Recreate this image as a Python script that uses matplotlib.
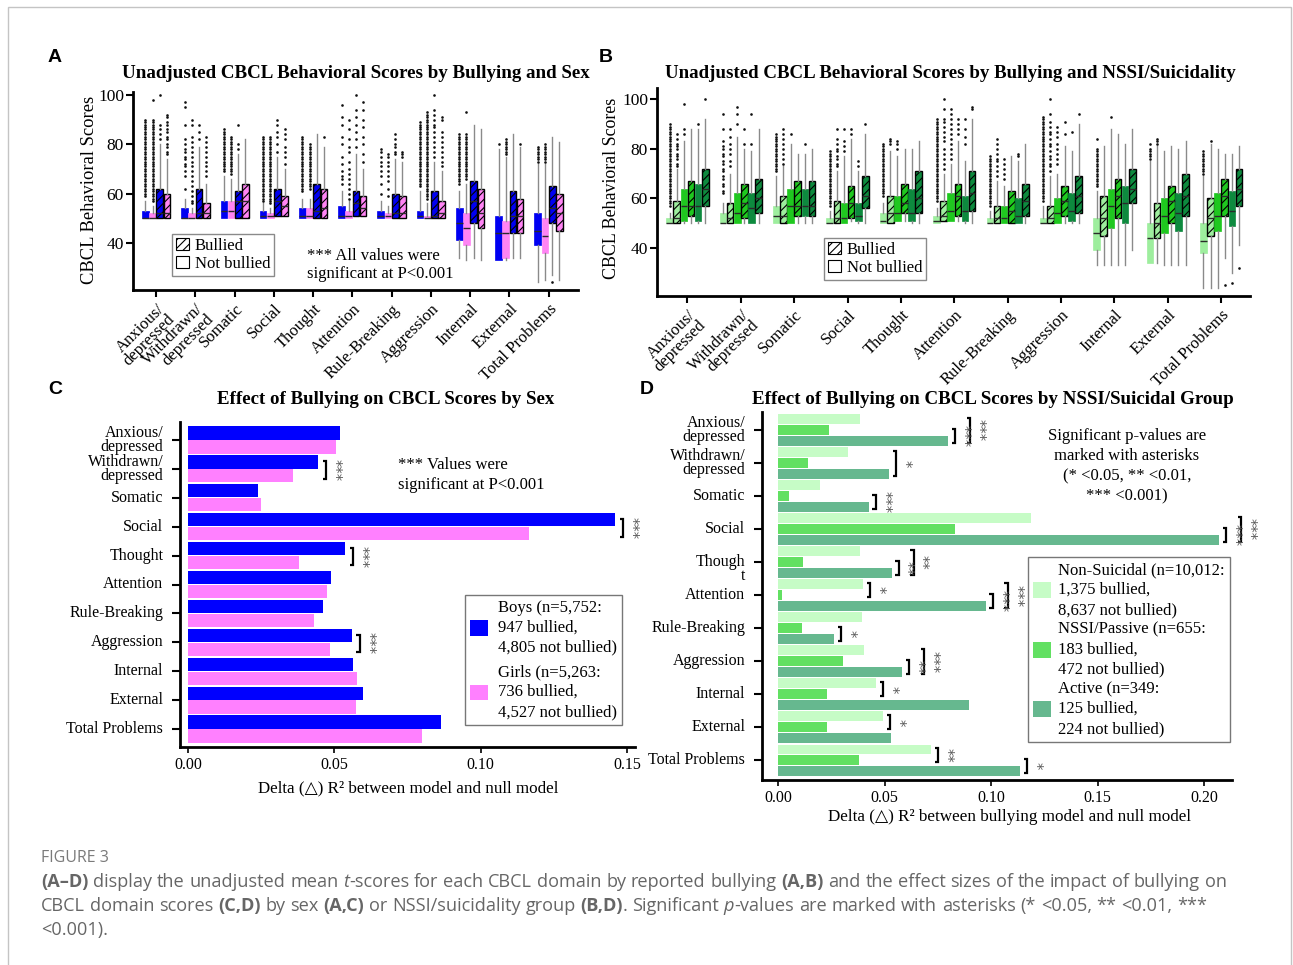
import numpy as np
import matplotlib
matplotlib.use("Agg")
import matplotlib.pyplot as plt
from matplotlib.patches import Patch, Rectangle
from matplotlib.transforms import ScaledTranslation

W, H, DPI = 1293, 965, 100
SERIF = ["Liberation Serif", "DejaVu Serif"]
SANS = ["Liberation Sans", "DejaVu Sans"]
CAPTION_FONT = ["Open Sans", "DejaVu Sans"]
plt.rcParams["font.family"] = SERIF
plt.rcParams["hatch.linewidth"] = 0.8
plt.rcParams["hatch.color"] = "black"

# ------------------------------------------------------------------ data
domains = ["Anxious/\ndepressed", "Withdrawn/\ndepressed", "Somatic", "Social",
           "Thought", "Attention", "Rule-Breaking", "Aggression", "Internal",
           "External", "Total Problems"]
domains_d = ["Anxious/\ndepressed", "Withdrawn/\ndepressed", "Somatic", "Social",
             "Though\nt", "Attention", "Rule-Breaking", "Aggression", "Internal",
             "External", "Total Problems"]


def scores(*parts):
    """Outlying T-scores: single values or (first, last) runs of consecutive scores."""
    out = []
    for p in parts:
        if isinstance(p, tuple):
            out.extend(range(p[0], p[1] + 1))
        else:
            out.append(p)
    return out


# Panel A: (lower whisker, Q1, median, Q3, upper whisker) per domain
boys_not_bullied = [(50, 50, 50, 53, 57), (50, 50, 50, 54, 58), (50, 50, 53, 57, 67),
                    (50, 50, 51, 53, 56), (50, 50, 51, 54, 58), (50, 50, 51, 55, 61),
                    (50, 50, 51, 53, 57), (50, 50, 51, 53, 61), (34, 41, 48, 54, 61),
                    (33, 33, 44, 51, 78), (24, 39, 45, 52, 72)]
girls_not_bullied = [(50, 50, 50, 52, 55), (50, 50, 50, 52, 54), (50, 50, 53, 57, 66),
                     (50, 50, 51, 52, 54), (50, 50, 51, 54, 58), (50, 50, 51, 53, 57),
                     (50, 50, 51, 52, 55), (50, 50, 50, 51, 56), (33, 39, 46, 52, 64),
                     (33, 34, 44, 49, 75), (25, 36, 43, 50, 72)]
boys_bullied = [(50, 50, 52, 62, 80), (50, 50, 52, 62, 79), (50, 50, 57, 61, 76),
                (51, 51, 57, 62, 75), (50, 50, 53, 64, 84), (51, 51, 56, 61, 76),
                (50, 50, 52, 60, 74), (50, 50, 51, 61, 73), (34, 48, 57, 65, 88),
                (34, 44, 51, 61, 84), (27, 48, 54, 63, 83)]
girls_bullied = [(50, 50, 52, 60, 74), (50, 50, 52, 56, 64), (50, 50, 57, 64, 82),
                 (51, 51, 55, 59, 70), (50, 50, 54, 62, 79), (51, 51, 54, 59, 70),
                 (50, 50, 52, 59, 73), (50, 50, 52, 57, 69), (33, 46, 52, 62, 86),
                 (34, 44, 51, 58, 79), (25, 45, 52, 60, 81)]

boys_not_bullied_out = [scores((59, 90)), scores(62, 67, 69, 71, 72, 74, 75, 77, 78, 80, 82, 88, 95, 97),
                        scores((69, 86)), scores((57, 83)), scores((61, 83)),
                        scores(64, 66, 67, 69, 72, 75, 80, 83, 88, 91, 96),
                        scores(60, 64, 67, 69, 71, 73, 75, 77, 78), scores((63, 89)),
                        scores((64, 84)), scores(80), scores((73, 79))]
girls_not_bullied_out = [scores((57, 90), 98),
                         scores(56, 57, 59, 61, 63, 65, 67, 69, 71, 73, 75, 77, 79, 81, 83, 88, 90),
                         scores((68, 83)), scores((56, 83)), scores((62, 80)),
                         scores(58, 60, 62, 64, 66, 68, 70, 73, 77, 79, 82, 86, 90),
                         scores(59, 62, 65, 67, 69, 71, 73, 75, 76), scores((58, 93)),
                         scores((66, 84), 93), scores((76, 82)), scores((73, 80))]
boys_bullied_out = [scores(82, 84, 86, 88, 100), scores(82, 85, 88), scores(78, 80, 88),
                    scores(77, 80, 83, 85, 88, 90), scores(),
                    scores(79, 82, 85, 88, 91, 94, 100), scores(76, 77, 79, 80, 82, 84),
                    scores(75, 77, 79, 81, 83, 85, 87, 88, 90, 92, 94, 100),
                    scores(), scores(), scores(24)]
girls_bullied_out = [scores(76, 77, 79, 80, 82, 83, 85, 86, 88, 89, 91, 92),
                     scores(67, 69, 71, 73, 75, 77, 79, 81, 83), scores(),
                     scores(72, 75, 77, 79, 82, 84, 86), scores(83),
                     scores(73, 76, 80, 83, 87, 90, 94, 97), scores(75, 76, 77),
                     scores(71, 73, 75, 77, 79, 81, 83, 85, 90, 91), scores(), scores(80), scores()]

# Panel B: same layout, by NSSI/suicidality group
nonsuicidal_not_bullied = [(50, 50, 50, 52, 54), (50, 50, 50, 54, 58), (50, 50, 53, 57, 69),
                           (50, 50, 50, 52, 55), (50, 50, 51, 54, 58), (50, 50, 51, 53, 56),
                           (50, 50, 50, 52, 55), (50, 50, 50, 52, 57), (33, 39, 46, 52, 63),
                           (34, 34, 44, 50, 75), (24, 38, 43, 50, 69)]
nonsuicidal_bullied = [(50, 50, 52, 59, 72), (50, 50, 52, 58, 70), (50, 50, 53, 61, 73),
                       (50, 50, 52, 59, 71), (50, 50, 54, 61, 79), (51, 51, 53, 59, 70),
                       (50, 50, 52, 57, 67), (50, 50, 52, 57, 69), (33, 45, 52, 61, 81),
                       (34, 44, 50, 58, 81), (24, 45, 52, 60, 82)]
nssi_not_bullied = [(50, 51, 57, 64, 83), (50, 50, 54, 62, 85), (50, 50, 57, 64, 82),
                    (50, 50, 52, 58, 77), (51, 51, 54, 61, 77), (51, 51, 55, 62, 74),
                    (50, 50, 52, 57, 65), (50, 50, 54, 60, 70), (33, 48, 57, 64, 88),
                    (33, 46, 53, 60, 79), (24, 47, 53, 62, 80)]
nssi_bullied = [(50, 53, 57, 67, 88), (50, 52, 58, 66, 80), (50, 53, 57, 67, 78),
                (51, 52, 58, 65, 84), (51, 54, 58, 66, 80), (51, 53, 61, 66, 83),
                (50, 50, 55, 63, 77), (50, 53, 59, 65, 81), (33, 52, 61, 68, 86),
                (33, 50, 59, 65, 81), (36, 53, 61, 68, 78)]
active_not_bullied = [(50, 51, 57, 66, 88), (50, 50, 56, 62, 79), (50, 53, 57, 64, 78),
                      (50, 51, 53, 58, 71), (50, 51, 54, 64, 80), (50, 51, 55, 61, 75),
                      (50, 50, 53, 60, 75), (50, 51, 55, 62, 79), (33, 50, 58, 65, 82),
                      (33, 47, 54, 62, 80), (30, 49, 55, 63, 78)]
active_bullied = [(50, 57, 64, 72, 92), (50, 54, 60, 68, 88), (50, 53, 57, 67, 80),
                  (50, 56, 61, 69, 86), (50, 54, 60, 71, 83), (50, 55, 62, 71, 92),
                  (50, 53, 59, 66, 82), (50, 54, 61, 69, 90), (39, 58, 64, 72, 88),
                  (33, 53, 61, 70, 83), (41, 57, 64, 72, 81)]

nonsuicidal_not_bullied_out = [scores((57, 90)),
                               scores(62, 63, 65, 66, 68, 69, 71, 72, 74, 75, 77, 78, 80, 81, 83, 88, 94),
                               scores((71, 86)), scores((57, 79)), scores((61, 82)),
                               scores((59, 92)), scores((57, 77)), scores((59, 93)),
                               scores((65, 80), 84), scores(76, 77, 78, 79, 80, 82), scores((70, 79))]
nonsuicidal_bullied_out = [scores(73, 74, 76, 77, 78, 80, 81, 82, 84, 86),
                           scores(73, 75, 78, 80, 82, 85, 88),
                           scores(74, 76, 78, 80, 82, 84, 86, 88),
                           scores(73, 74, 76, 77, 79, 80, 82, 84, 88), scores(82, 83, 84),
                           scores(72, 74, 76, 78, 80, 83, 85, 87, 89, 91, 92, 96, 100),
                           scores(69, 71, 73, 75, 76, 78, 80, 82, 84),
                           scores(71, 73, 74, 76, 77, 79, 81, 82, 84, 86, 87, 89, 91, 94, 100),
                           scores(), scores(82, 83, 84), scores(83)]
nssi_not_bullied_out = [scores(86, 88, 98), scores(90, 94, 97), scores(86),
                        scores(79, 81, 83, 88), scores(80, 82, 83),
                        scores(76, 78, 80, 82, 84, 86, 88, 90, 92, 94, 96),
                        scores(68, 70, 72, 74, 76), scores(74, 76, 78, 80, 82, 85, 87, 89),
                        scores(93), scores(), scores()]
nssi_bullied_out = [scores(), scores(82, 88), scores(), scores(86, 88), scores(),
                    scores(86, 88, 90, 92), scores(), scores(86, 91), scores(), scores(), scores(25)]
active_not_bullied_out = [scores(90), scores(82, 94), scores(82), scores(73, 75), scores(),
                          scores(82, 85, 88, 92), scores(77, 78), scores(87), scores(), scores(),
                          scores(26)]
active_bullied_out = [scores(100), scores(), scores(), scores(90), scores(), scores(96, 97),
                      scores(), scores(94), scores(), scores(), scores(32)]

# Panel C: delta R^2 by sex
delta_boys = [0.052, 0.0445, 0.024, 0.146, 0.0537, 0.049, 0.0462, 0.056, 0.0563, 0.0597, 0.0863]
delta_girls = [0.0505, 0.036, 0.025, 0.1164, 0.038, 0.0474, 0.0432, 0.0487, 0.0579, 0.0575, 0.080]
sig_c = {1: [(0, 1, "***")], 3: [(0, 1, "***")], 4: [(0, 1, "***")], 7: [(0, 1, "***")]}

# Panel D: delta R^2 by NSSI/suicidal group
delta_nonsuicidal = [0.0384, 0.0327, 0.0197, 0.1187, 0.0384, 0.0400, 0.0394, 0.0405, 0.0462, 0.0495, 0.0719]
delta_nssi = [0.0240, 0.0141, 0.0051, 0.0831, 0.0119, 0.0021, 0.0114, 0.0304, 0.0231, 0.0231, 0.0380]
delta_active = [0.0799, 0.0523, 0.0426, 0.2072, 0.0533, 0.0975, 0.0264, 0.0584, 0.0895, 0.0529, 0.1136]
sig_d = {0: [(1, 2, "***"), (0, 2, "***")], 1: [(0, 2, "*")], 2: [(1, 2, "***")],
         3: [(1, 2, "***"), (0, 2, "***")], 4: [(1, 2, "**"), (0, 2, "**")],
         5: [(0, 1, "*"), (1, 2, "***"), (0, 2, "***")], 6: [(1, 2, "*")],
         7: [(1, 2, "**"), (0, 2, "***")], 8: [(0, 1, "*")], 9: [(0, 1, "*")],
         10: [(0, 1, "**"), (1, 2, "*")]}

legend_c = ["Boys (n=5,752:\n947 bullied,\n4,805 not bullied)",
            "Girls (n=5,263:\n736 bullied,\n4,527 not bullied)"]
legend_d = ["Non-Suicidal (n=10,012:\n1,375 bullied,\n8,637 not bullied)",
            "NSSI/Passive (n=655:\n183 bullied,\n472 not bullied)",
            "Active (n=349:\n125 bullied,\n224 not bullied)"]

caption_lines = [
    [("(A–D)", "bold"), (" display the unadjusted mean ", "normal"), ("t", "italic"),
     ("-scores for each CBCL domain by reported bullying ", "normal"), ("(A,B)", "bold"),
     (" and the effect sizes of the impact of bullying on", "normal")],
    [("CBCL domain scores ", "normal"), ("(C,D)", "bold"), (" by sex ", "normal"),
     ("(A,C)", "bold"), (" or NSSI/suicidality group ", "normal"), ("(B,D)", "bold"),
     (". Significant ", "normal"), ("p", "italic"),
     ("-values are marked with asterisks (* <0.05, ** <0.01, ***", "normal")],
    [("<0.001).", "normal")],
]

# ------------------------------------------------------------------ style
BLUE, PINK = "#0000f2", "#ff84f4"
BLUE_C, PINK_C = "#0000ff", "#ff80ff"
G_LIGHT, G_MID, G_DARK = "#9eee9e", "#1fc81f", "#0d8a3e"
D_LIGHT, D_MID, D_DARK = "#c6fcc6", "#62e062", "#66b88f"
STAR = "#5a5a5a"

fig = plt.figure(figsize=(W / DPI, H / DPI), dpi=DPI)
fig.patch.set_facecolor("white")
renderer = fig.canvas.get_renderer()


def rect(left, top, right, bottom):
    return [left / W, 1 - bottom / H, (right - left) / W, (bottom - top) / H]


def ptext(x, y, s, **kw):
    return fig.text(x / W, 1 - y / H, s, **kw)


def fit(t, length_px, vertical=False):
    bb = t.get_window_extent(renderer)
    size = bb.height if vertical else bb.width
    t.set_fontsize(t.get_fontsize() * length_px / size)
    return t


def draw_boxes(ax, series, offsets, width, colors, hatched):
    for (stats, outs), off, col, hat in zip(series, offsets, colors, hatched):
        bstats = [dict(whislo=s[0], q1=s[1], med=s[2], q3=s[3], whishi=s[4], fliers=o)
                  for s, o in zip(stats, outs)]
        ax.bxp(bstats, positions=np.arange(len(bstats)) + off, widths=width,
               patch_artist=True, showcaps=False, manage_ticks=False,
               boxprops=dict(facecolor=col, edgecolor="black" if hat else col,
                             linewidth=1.0 if hat else 0.5, hatch="////" if hat else None),
               medianprops=dict(color="#2a2a2a", linewidth=1.0),
               whiskerprops=dict(color="#8a8a8a", linewidth=1.0),
               flierprops=dict(marker="o", markersize=1.9, markerfacecolor="#101010",
                               markeredgecolor="none"))


def style_box_axes(ax):
    for s in ("top", "right"):
        ax.spines[s].set_visible(False)
    for s in ("left", "bottom"):
        ax.spines[s].set_linewidth(2.0)
    ax.set_yticks([40, 60, 80, 100])
    ax.tick_params(axis="both", direction="out", length=5, width=1.5)
    ax.tick_params(axis="y", labelsize=12.5, pad=1.5)
    ax.set_xticks(range(len(domains)))
    ax.set_xticklabels(domains, rotation=45, ha="right", rotation_mode="anchor",
                       fontsize=12, linespacing=0.85)
    ax.tick_params(axis="x", pad=3)


def style_bar_axes(ax, labels):
    for s in ("top", "right"):
        ax.spines[s].set_visible(False)
    for s in ("left", "bottom"):
        ax.spines[s].set_linewidth(2.0)
    ax.set_yticks(range(len(labels)))
    ax.set_yticklabels(labels, fontsize=11.5, linespacing=0.85)
    for lab in ax.get_yticklabels():
        lab.set_verticalalignment("center")
    ax.tick_params(axis="y", direction="out", length=6, width=1.5, pad=6)
    ax.tick_params(axis="x", direction="out", length=4, width=1.2, labelsize=11.5, pad=3)


def box_legend(ax, anchor):
    handles = [Patch(facecolor="white", edgecolor="black", hatch="////", linewidth=0.8),
               Patch(facecolor="white", edgecolor="black", linewidth=0.8)]
    leg = ax.legend(handles, ["Bullied", "Not bullied"], loc="upper left",
                    bbox_to_anchor=anchor, fontsize=12, frameon=True, fancybox=False,
                    edgecolor="#8a8a8a", framealpha=1, handlelength=0.75, handleheight=0.75,
                    handletextpad=0.35, borderpad=0.25, labelspacing=0.12, borderaxespad=0)
    leg.get_frame().set_linewidth(1.0)


def brackets(ax, values, offsets, marks, ppu, pad_top, pad_bot, gap=7, step=15, arm=3.5, fs=11):
    for cat, items in marks.items():
        placed = []
        for i, j, stars in items:
            x = max(values[k][cat] for k in range(i, j + 1)) + gap / ppu
            for pi, pj, px in placed:
                if i <= pi and pj <= j:
                    x = max(x, px + step / ppu)
            placed.append((i, j, x))
            y0 = cat + offsets[i] - pad_top
            y1 = cat + offsets[j] + pad_bot
            ax.plot([x - arm / ppu, x, x, x - arm / ppu], [y0, y0, y1, y1], color="black",
                    lw=1.6, clip_on=False, solid_joinstyle="miter", solid_capstyle="butt")
            ax.text(x + 0.5 / ppu, (y0 + y1) / 2, stars, rotation=270, ha="left", va="center",
                    fontsize=fs, color=STAR, clip_on=False, family=["DejaVu Sans"])


# ------------------------------------------------------------------ panel A
axA = fig.add_axes(rect(133, 92, 578, 290))
draw_boxes(axA,
           [(boys_not_bullied, boys_not_bullied_out), (girls_not_bullied, girls_not_bullied_out),
            (boys_bullied, boys_bullied_out), (girls_bullied, girls_bullied_out)],
           [-0.275, -0.092, 0.092, 0.275], 0.17,
           [BLUE, PINK, BLUE, PINK], [False, False, True, True])
axA.set_xlim(-0.59, 10.75)
axA.set_ylim(20.9, 101.2)
style_box_axes(axA)
box_legend(axA, (0.088, 0.283))
ptext(307, 265, "*** All values were\nsignificant at P<0.001", fontsize=12,
      ha="left", va="center", linespacing=1.25)
fit(ptext(355.5, 73, "Unadjusted CBCL Behavioral Scores by Bullying and Sex",
          fontsize=13, weight="bold", ha="center", va="center"), 465)
fit(ptext(90, 190, "CBCL Behavioral Scores", fontsize=13.5, rotation=90,
          ha="center", va="center"), 188, vertical=True)

# ------------------------------------------------------------------ panel B
axB = fig.add_axes(rect(657, 88, 1250, 296))
draw_boxes(axB,
           [(nonsuicidal_not_bullied, nonsuicidal_not_bullied_out),
            (nonsuicidal_bullied, nonsuicidal_bullied_out),
            (nssi_not_bullied, nssi_not_bullied_out), (nssi_bullied, nssi_bullied_out),
            (active_not_bullied, active_not_bullied_out), (active_bullied, active_bullied_out)],
           [-0.333, -0.2, -0.067, 0.067, 0.2, 0.333], 0.125,
           [G_LIGHT, G_LIGHT, G_MID, G_MID, G_DARK, G_DARK],
           [False, True, False, True, False, True])
axB.set_xlim(-0.57, 10.54)
axB.set_ylim(20.6, 104.6)
style_box_axes(axB)
box_legend(axB, (0.282, 0.279))
fit(ptext(950, 74, "Unadjusted CBCL Behavioral Scores by Bullying and NSSI/Suicidality",
          fontsize=13, weight="bold", ha="center", va="center"), 568)
fit(ptext(611, 188, "CBCL Behavioral Scores", fontsize=13.5, rotation=90,
          ha="center", va="center"), 182, vertical=True)

# ------------------------------------------------------------------ panel C
axC = fig.add_axes(rect(180, 422, 635, 747))
yc = np.arange(len(domains))
off_c = [-0.24, 0.24]
axC.barh(yc + off_c[0], delta_boys, height=0.46, color=BLUE_C)
axC.barh(yc + off_c[1], delta_girls, height=0.46, color=PINK_C)
axC.set_xlim(-0.0027, 0.1527)
axC.set_ylim(10.62, -0.62)
axC.set_xticks([0, 0.05, 0.10, 0.15])
axC.set_xticklabels(["0.00", "0.05", "0.10", "0.15"])
style_bar_axes(axC, domains)
ppu_c = 455 / (0.1527 + 0.0027)
brackets(axC, [delta_boys, delta_girls], off_c, sig_c, ppu_c, 0.02, 0.1, gap=8, fs=10.5)
legC = axC.legend([Patch(facecolor=BLUE_C), Patch(facecolor=PINK_C)], legend_c,
                  loc="upper left", bbox_to_anchor=(0.627, 0.468), fontsize=12,
                  frameon=True, fancybox=False, edgecolor="#777777", framealpha=1,
                  handlelength=1.05, handleheight=1.05, handletextpad=0.6,
                  borderpad=0.3, labelspacing=0.5, borderaxespad=0)
legC.get_frame().set_linewidth(1.0)
for t in legC.get_texts():
    t.set_linespacing(1.33)
ptext(398, 475, "*** Values were\nsignificant at P<0.001", fontsize=12,
      ha="left", va="center", linespacing=1.35)
fit(ptext(386, 399, "Effect of Bullying on CBCL Scores by Sex", fontsize=13,
          weight="bold", ha="center", va="center"), 336)
fit(ptext(408, 788, "Delta (△) R² between model and null model", fontsize=12,
          ha="center", va="center"), 300)

# ------------------------------------------------------------------ panel D
axD = fig.add_axes(rect(762, 412, 1232, 780))
yd = np.arange(len(domains_d))
off_d = [-0.33, 0.0, 0.33]
for vals, off, col in zip([delta_nonsuicidal, delta_nssi, delta_active], off_d,
                          [D_LIGHT, D_MID, D_DARK]):
    axD.barh(yd + off, vals, height=0.29, color=col)
axD.set_xlim(-0.0075, 0.2131)
axD.set_ylim(10.6, -0.545)
axD.set_xticks([0, 0.05, 0.10, 0.15, 0.20])
axD.set_xticklabels(["0.00", "0.05", "0.10", "0.15", "0.20"])
style_bar_axes(axD, domains_d)
# the wrapped "Though / t" label sits with its first line on the tick
wrapped = axD.get_yticklabels()[4]
wrapped.set_verticalalignment("top")
wrapped.set_transform(wrapped.get_transform() + ScaledTranslation(0, 0.08, fig.dpi_scale_trans))
ppu_d = 470 / (0.2131 + 0.0075)
brackets(axD, [delta_nonsuicidal, delta_nssi, delta_active], off_d, sig_d, ppu_d,
         0.03, 0.06, gap=7, step=15, fs=10.5)
legD = axD.legend([Patch(facecolor=D_LIGHT), Patch(facecolor=D_MID), Patch(facecolor=D_DARK)],
                  legend_d, loc="upper left", bbox_to_anchor=(0.566, 0.606), fontsize=12,
                  frameon=True, fancybox=False, edgecolor="#777777", framealpha=1,
                  handlelength=1.1, handleheight=1.1, handletextpad=0.4,
                  borderpad=0.3, labelspacing=0.22, borderaxespad=0)
legD.get_frame().set_linewidth(1.0)
for t in legD.get_texts():
    t.set_linespacing(1.33)
ptext(1127, 466, "Significant p-values are\nmarked with asterisks\n(* <0.05, ** <0.01,\n*** <0.001)",
      fontsize=12, ha="center", va="center", linespacing=1.33)
fit(ptext(992.5, 399, "Effect of Bullying on CBCL Scores by NSSI/Suicidal Group", fontsize=13,
          weight="bold", ha="center", va="center"), 479)
fit(ptext(1010, 817, "Delta (△) R² between bullying model and null model", fontsize=12,
          ha="center", va="center"), 362)

# ------------------------------------------------------------------ panel letters
for letter, (x, y) in {"A": (55, 57), "B": (606, 57), "C": (55, 390), "D": (647, 390)}.items():
    ptext(x, y, letter, fontsize=14, weight="bold", family=SANS, ha="center", va="center")

# ------------------------------------------------------------------ caption
CAP = "#666666"
fit(ptext(41, 858, "FIGURE 3", fontsize=9, family=CAPTION_FONT, color="#7a7a7a",
          ha="left", va="center"), 68)


def text_width(s, fs, weight="normal", style="normal"):
    t = ptext(0, 0, s, fontsize=fs, family=CAPTION_FONT, weight=weight, style=style)
    w = t.get_window_extent(renderer).width
    t.remove()
    return w


def caption_line(y, segments, fs, draw=True):
    x = 41
    space = text_width("a a", fs) - text_width("aa", fs)
    for text, kind in segments:
        weight = "bold" if kind == "bold" else "normal"
        style = "italic" if kind == "italic" else "normal"
        for k, word in enumerate(text.split(" ")):
            if k > 0:
                x += space
            if word:
                t = ptext(x, y, word, fontsize=fs, family=CAPTION_FONT, color=CAP,
                          weight=weight, style=style, ha="left", va="baseline")
                x += t.get_window_extent(renderer).width
                if not draw:
                    t.remove()
    return x


# scale the caption so that its first line spans the text column
probe = caption_line(887, caption_lines[0], 12, draw=False)
cap_fs = 12 * (1219 - 41) / (probe - 41)
for y, segs in zip([887, 911, 935], caption_lines):
    caption_line(y, segs, cap_fs)

# outer frame
fig.patches.append(Rectangle((8 / W, -0.02), (1291 - 8) / W, (965 - 7) / H + 0.02,
                             transform=fig.transFigure, fill=False, edgecolor="#c4c4c4",
                             linewidth=1.0))

fig.savefig("out.png", dpi=DPI, facecolor="white")
